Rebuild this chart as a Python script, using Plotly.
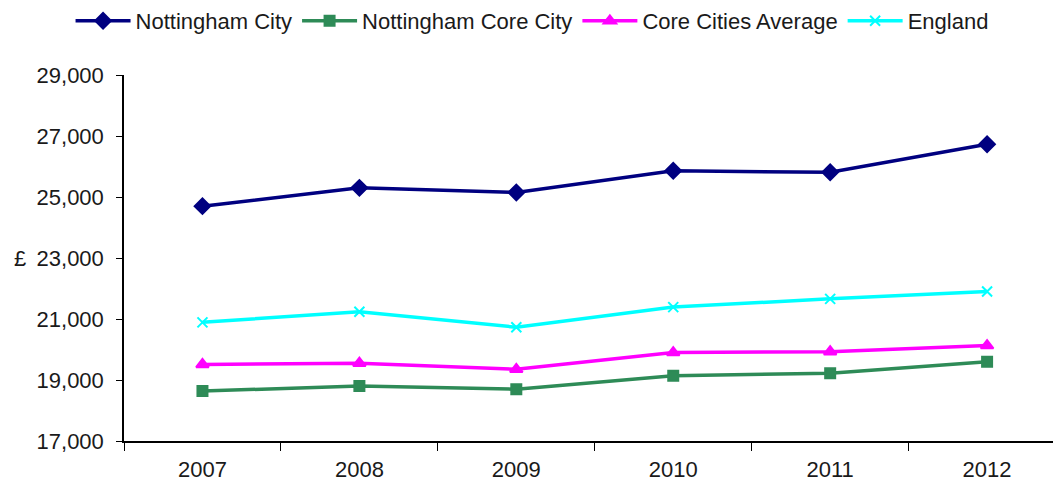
import plotly.graph_objects as go

years = ["2007", "2008", "2009", "2010", "2011", "2012"]
nottingham_city = [24700, 25300, 25150, 25860, 25810, 26730]
nottingham_core_city = [18640, 18800, 18700, 19140, 19220, 19600]
core_cities_average = [19510, 19550, 19350, 19900, 19930, 20130]
england = [20890, 21240, 20730, 21390, 21660, 21900]

series = [
    ("Nottingham City", nottingham_city, "#000080", "diamond", 12),
    ("Nottingham Core City", nottingham_core_city, "#2E8B57", "square", 10),
    ("Core Cities Average", core_cities_average, "#FF00FF", "triangle-up", 11),
    ("England", england, "#00FFFF", "x-thin-open", 10),
]

fig = go.Figure()
for name, vals, color, sym, size in series:
    fig.add_trace(go.Scatter(
        x=years, y=vals, name=name, mode="lines+markers",
        line=dict(color=color, width=3.5),
        marker=dict(symbol=sym, size=size, color=color,
                    line=dict(color=color, width=2)),
    ))

font = dict(family="Liberation Sans, Arial, sans-serif", size=22, color="#1a1a1a")

fig.update_layout(
    width=1053, height=485,
    margin=dict(l=124, r=0, t=75, b=44),
    paper_bgcolor="white", plot_bgcolor="white",
    font=font,
    showlegend=True,
    legend=dict(orientation="h", xref="container", yref="container",
                x=0.067, y=1.0, xanchor="left", yanchor="top",
                font=font, itemwidth=55, tracegroupgap=0,
                bgcolor="rgba(0,0,0,0)"),
    xaxis=dict(type="category", range=[-0.5, 5.42], showline=True,
               linecolor="black", linewidth=1.5, ticks="outside",
               tickson="boundaries", ticklen=8, tickcolor="black",
               ticklabelstandoff=8,
               showgrid=False, zeroline=False, tickfont=font),
    yaxis=dict(range=[17000, 29000], tick0=17000, dtick=2000, tickformat=",d",
               showline=True, linecolor="black", linewidth=1.5,
               ticks="outside", ticklen=6, tickcolor="black",
               ticklabelstandoff=8,
               showgrid=False, zeroline=False, tickfont=font),
    annotations=[dict(text="£", xref="paper", yref="y", x=-0.103, y=23000,
                      xanchor="right", yanchor="middle", showarrow=False,
                      font=font)],
)

fig.write_html("out.html", config={"displayModeBar": False},
               post_script="document.body.style.margin='0';document.body.style.padding='0';")
